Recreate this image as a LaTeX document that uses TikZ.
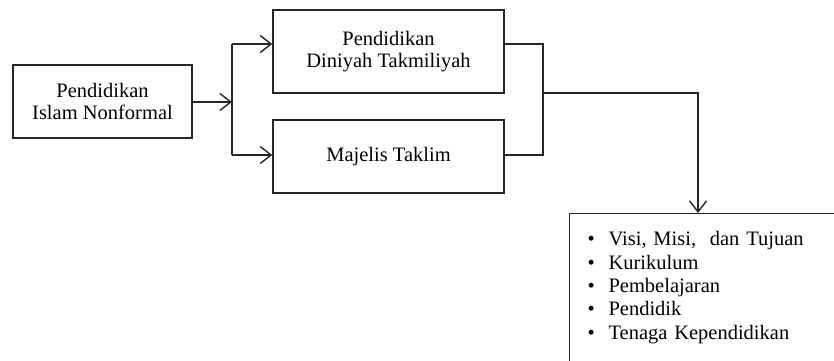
\documentclass[tikz,border=0pt]{standalone}
\usepackage{fontspec}
\setmainfont{Liberation Serif}
\usetikzlibrary{arrows.meta}
\begin{document}
\begin{tikzpicture}[x=1pt,y=-1pt,
  line width=1.4pt,
  color=black!85,
  box/.style={draw, rectangle, inner sep=0pt, align=center, text=black,
    font=\fontsize{20.5}{22.5}\selectfont},
  link/.style={-{Straight Barb[length=11pt,width=17pt,line width=1.4pt]}},
  plain/.style={-},
  listtext/.style={inner sep=0pt, align=left, text width=240pt, text=black,
    font=\fontsize{20.5}{23.3}\selectfont}]
\useasboundingbox (0,0) rectangle (834,360);
\clip (0,0) rectangle (834,360);

% boxes
\node[box, minimum width=179pt, minimum height=73pt] (nonformal) at (102.5,101.5)
  {Pendidikan\\Islam Nonformal};
\node[box, minimum width=231pt, minimum height=83pt] (diniyah) at (388.5,51.5)
  {Pendidikan\\Diniyah Takmiliyah};
\node[box, minimum width=231pt, minimum height=73pt] (majelis) at (388.5,156.5)
  {Majelis Taklim};
\node[box, anchor=north west, minimum width=320pt, minimum height=190pt] (aspek) at (569,213) {};
\node[listtext, anchor=north west] (aspekitems) at ([xshift=18pt,yshift=-18pt]aspek.north west)
  {\textbullet\ \ Visi, Misi,\ \ dan Tujuan\\
   \textbullet\ \ Kurikulum\\
   \textbullet\ \ Pembelajaran\\
   \textbullet\ \ Pendidik\\
   \textbullet\ \ Tenaga Kependidikan};

% junction points
\coordinate (split) at (232,102);
\coordinate (splittop) at (232,44);
\coordinate (splitbot) at (232,155);
\coordinate (jointop) at (543,44);
\coordinate (joinbot) at (543,155);
\coordinate (joinmid) at (543,93);
\coordinate (turn) at (698,93);

% branching from the left box
\draw[link] (nonformal.east |- split) -- (split);
\draw[plain] (splittop) -- (splitbot);
\draw[link] (splittop) -- (diniyah.west |- splittop);
\draw[link] (splitbot) -- (majelis.west |- splitbot);

% merging into the aspects box
\draw[plain] (diniyah.east |- jointop) -- (jointop) -- (joinbot) -- (majelis.east |- joinbot);
\draw[link] (joinmid) -- (turn) -- (turn |- aspek.north);
\end{tikzpicture}
\end{document}
